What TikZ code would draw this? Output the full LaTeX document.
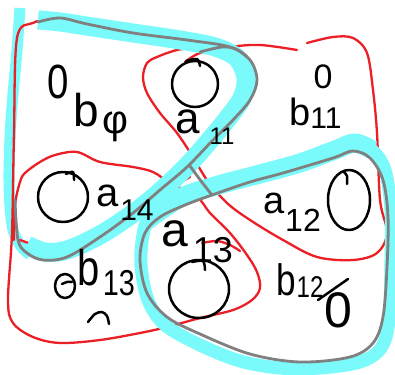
\documentclass[tikz,border=0pt]{standalone}
\usepackage{fontspec}
\setmainfont{Liberation Sans}
\definecolor{pred}{RGB}{236,30,38}
\definecolor{pcyan}{RGB}{122,250,250}
\definecolor{pgray}{RGB}{128,128,128}
\newcommand{\hsz}[1]{\fontsize{#1}{#1}\selectfont}
\newcommand{\nrw}[1]{\scalebox{0.8}[1]{#1}}
\tikzset{
  redline/.style={draw=pred, line width=2.3pt, line cap=round, line join=round},
  cyanband/.style={draw=pcyan, line width=#1, line cap=butt, line join=round},
  grayline/.style={draw=pgray, line width=2.8pt, line cap=round, line join=round},
  inkline/.style={draw=black, line width=2.5pt, line cap=round, line join=round},
  lbl/.style={inner sep=0pt, text=black}
}
\begin{document}
\begin{tikzpicture}[x=1pt,y=-1pt]
\useasboundingbox[fill=white] (0,0) rectangle (395,374);

% ---------- left cyan strip (under the red) ----------
\draw[cyanband=11pt] plot[smooth, tension=0.55] coordinates {(20,8) (17,50) (11,120) (9,180) (12,225) (20,245) (30,255)};

% ---------- red loops ----------
\draw[redline] plot[smooth, tension=0.55] coordinates {(307,43) (333,37) (353,38) (367,53) (373,90) (377,133) (380,200) (387,233) (377,253) (353,260) (317,257) (283,240) (250,220) (227,203) (207,180) (193,157) (177,133) (160,113) (147,93) (143,77) (147,63) (157,57) (177,50) (200,47)};
\draw[redline] plot[smooth, tension=0.55] coordinates {(185,62) (200,53) (230,47) (260,45) (297,50)};
\draw[redline] plot[smooth, tension=0.55] coordinates {(90,22) (50,20) (33,23) (17,38) (14,133) (12,233) (8,300) (13,323) (33,337) (60,343) (100,340) (140,333) (167,327) (200,318) (233,310) (252,300) (260,288) (257,272) (247,255) (230,233) (210,213) (197,197) (170,183) (153,172) (133,167) (100,162) (77,152) (55,155) (40,162) (25,173) (20,182) (15,205) (14,240)};
\draw[redline] plot[smooth, tension=0.55] coordinates {(20,240) (60,250) (100,237) (143,210) (172,188) (190,177)};
\draw[redline] plot[smooth, tension=0.55] coordinates {(202,243) (217,241) (230,245) (240,251)};

% ---------- cyan highlight ----------
\draw[cyanband=19pt] plot[smooth, tension=0.55] coordinates {(38,20) (60,22) (93,27) (133,33) (180,40) (215,47) (237,58) (246,78) (242,98) (228,118) (210,140) (188,165) (162,190) (135,212) (100,235) (67,250) (45,252) (27,245)};
\draw[cyanband=19pt] plot[smooth, tension=0.55] coordinates {(145,222) (180,198) (215,186) (260,174) (300,163) (335,150) (355,143) (372,150)};
\draw[cyanband=13pt] plot[smooth cycle, tension=0.55] coordinates {(150,218) (180,198) (215,186) (260,174) (300,163) (335,150) (355,143) (372,150) (385,170) (391,210) (391,260) (389,320) (381,348) (360,362) (320,368) (280,368) (240,361) (200,345) (165,325) (148,300) (141,265) (143,235)};

% ---------- gray lines ----------
\draw[grayline] plot[smooth, tension=0.55] coordinates {(38,22) (60,18) (87,24) (133,33) (187,40) (230,47) (250,60) (257,80) (250,100) (233,120) (213,140) (187,167) (160,190) (133,213) (100,237) (67,257) (43,260) (27,253) (18,240) (15,200)};
\draw[grayline] plot[smooth, tension=0.55] coordinates {(200,52) (222,47) (236,49) (247,57)};
\draw[grayline] plot[smooth cycle, tension=0.55] coordinates {(212,195) (250,182) (283,173) (333,158) (353,151) (370,158) (383,180) (388,217) (387,267) (383,317) (373,343) (350,357) (300,362) (250,354) (200,334) (167,317) (147,293) (140,260) (145,233) (160,217) (185,205)};
\draw[grayline] plot[smooth, tension=0.55] coordinates {(190,166) (201,181) (212,195)};

% ---------- big circles ----------
\draw[inkline] (195,84) ellipse [x radius=23, y radius=23];
\draw[inkline] plot[smooth] coordinates {(186,61) (197,59) (200,66)};
\draw[inkline] (63,197) ellipse [x radius=25, y radius=25];
\draw[inkline] plot[smooth] coordinates {(66,174) (73,172) (74,180)};
\draw[inkline] (349,200) ellipse [x radius=21, y radius=30];
\draw[inkline] plot[smooth] coordinates {(344,172) (347,176) (347,184)};
\draw[inkline] (199,289) ellipse [x radius=30, y radius=29];
\draw[inkline] plot[smooth] coordinates {(192,262) (203,261) (205,270)};
\draw[inkline] (65,286) ellipse [x radius=10, y radius=12];
\draw[inkline] plot[smooth] coordinates {(62,284) (67,282) (72,282)};

% ---------- labels ----------
\node[lbl] (z1) at (58,82) {\hsz{48}\nrw{0}};
\node[lbl] (b0) at (86,110) {\hsz{46}b};
\node[lbl] (phi) at (115,127) {\hsz{40}φ};

\node[lbl] (a11a) at (188,122) {\hsz{44}a};
\node[lbl] (a11s) at (222,136) {\hsz{24}11};

\node[lbl] (z2) at (323,77) {\hsz{34}0};
\node[lbl] (b11b) at (300,112) {\hsz{38}b};
\node[lbl] (b11s) at (326,118) {\hsz{30}11};

\node[lbl] (a14a) at (108,196) {\hsz{40}a};
\node[lbl] (a14s) at (137,210) {\hsz{30}14};

\node[lbl] (a12a) at (274,203) {\hsz{38}a};
\node[lbl] (a12s) at (303,220) {\hsz{32}12};

\node[lbl] (a13a) at (175,234) {\hsz{48}a};
\node[lbl] (a13s) at (213,250) {\hsz{36}13};

\node[lbl] (b13b) at (89,268) {\hsz{50}\nrw{b}};
\node[lbl] (b13s) at (119,283) {\hsz{36}\nrw{13}};
\draw[inkline] plot[smooth] coordinates {(88,322) (95,314) (102,312) (107,316) (109,324)};

\node[lbl] (b12b) at (286,280) {\hsz{44}\nrw{b}};
\node[lbl] (b12s) at (310,287) {\hsz{30}\nrw{12}};
\node[lbl] (z3) at (338,310) {\hsz{50}0};
\coordinate (sl1) at (318,300);
\coordinate (sl2) at (348,279);
\draw[inkline] (sl1) -- (sl2);
\end{tikzpicture}
\end{document}
